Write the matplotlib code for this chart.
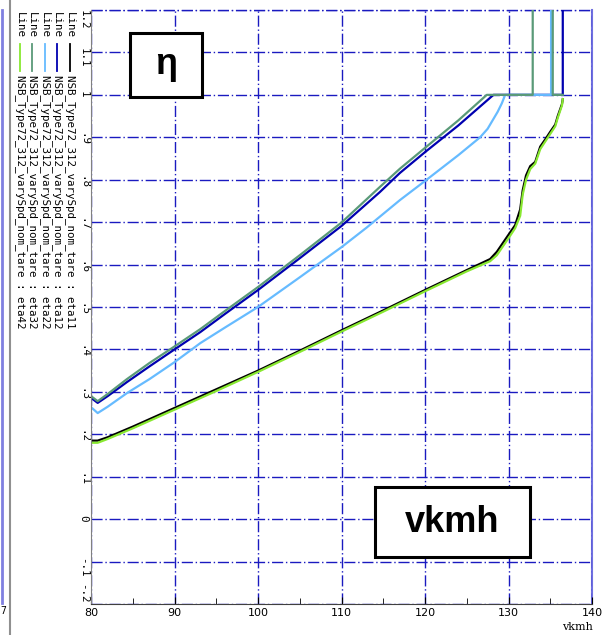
#!/usr/bin/python

import matplotlib
matplotlib.use("Agg")
import matplotlib.pyplot as plt
from matplotlib.patches import Rectangle

# lower pair: eta11 (black) and eta42 (lime)
v_low = [80, 80.8, 82, 85, 90, 95, 100, 105, 110, 115, 120, 125, 127.8, 128.6,
         130.2, 130.8, 131.4, 131.7, 132.1, 132.6, 133.2, 133.8, 134.4, 135.0,
         135.6, 135.9, 136.4, 136.5]
eta11 = [0.185, 0.185, 0.193, 0.218, 0.262, 0.306, 0.35, 0.397, 0.445, 0.492,
         0.54, 0.587, 0.613, 0.63, 0.676, 0.693, 0.73, 0.775, 0.81, 0.832,
         0.842, 0.878, 0.895, 0.913, 0.93, 0.95, 0.978, 0.99]
eta42 = [0.18, 0.18, 0.189, 0.214, 0.258, 0.302, 0.347, 0.394, 0.442, 0.489,
         0.537, 0.584, 0.608, 0.622, 0.668, 0.686, 0.715, 0.765, 0.80, 0.825,
         0.838, 0.872, 0.89, 0.908, 0.926, 0.946, 0.975, 0.99]

# upper curves, each flat at 1 and then leaving the chart
v_12 = [80, 80.8, 82, 84.3, 87, 90, 93.1, 96, 100, 105, 110, 114.6, 117, 120,
        124, 128.2, 136.5, 136.5]
eta12 = [0.286, 0.274, 0.29, 0.323, 0.36, 0.4, 0.441, 0.483, 0.54, 0.615,
         0.691, 0.771, 0.816, 0.865, 0.928, 1.0, 1.0, 1.5]

v_22 = [80, 80.8, 82, 84.3, 87, 90, 93.1, 96, 100, 105, 110, 113, 117, 120,
        124, 126.6, 127.5, 128.1, 128.7, 129.2, 129.6, 135.1, 135.1]
eta22 = [0.264, 0.25, 0.265, 0.297, 0.33, 0.37, 0.415, 0.451, 0.50, 0.57,
         0.641, 0.687, 0.752, 0.797, 0.858, 0.90, 0.92, 0.94, 0.96, 0.98, 1.0,
         1.0, 1.5]

v_32 = [80, 80.8, 82, 84.3, 87, 90, 93.1, 96, 100, 105, 110, 114.6, 117, 120,
        124, 127.4, 132.9, 132.9, 135.3, 135.3, 136.5]
eta32 = [0.29, 0.278, 0.295, 0.33, 0.368, 0.407, 0.448, 0.49, 0.547, 0.622,
         0.699, 0.783, 0.826, 0.875, 0.94, 1.0, 1.0, 1.5, 1.5, 1.0, 1.0]

series_names = ["eta11", "eta12", "eta22", "eta32", "eta42"]
series_colors = ["#000000", "#0000b0", "#66bbff", "#5a9a78", "#88e830"]
prefix = "NSB_Type72_312_varySpd_nom_tare : "

x_ticks = [80, 90, 100, 110, 120, 130, 140]
y_ticks = [-0.2, -0.1, 0, 0.1, 0.2, 0.3, 0.4, 0.5, 0.6, 0.7, 0.8, 0.9, 1.0, 1.1, 1.2]
y_labels = ["-.2", "-.1", "0", ".1", ".2", ".3", ".4", ".5", ".6", ".7", ".8",
            ".9", "1", "1.1", "1.2"]

W, H = 605, 635
grid_col = "#1a1ac0"
grid_dash = (8, 2, 1, 2)
mono = "DejaVu Sans Mono"


def main():
    fig = plt.figure(figsize=(W / 100, H / 100), dpi=100)
    x0, x1, ytop, ybot = 91, 592, 10, 604
    ax = fig.add_axes([x0 / W, (H - ybot) / H, (x1 - x0) / W, (ybot - ytop) / H])

    data = [(v_low, eta11), (v_12, eta12), (v_22, eta22), (v_32, eta32), (v_low, eta42)]
    for (v, e), c in zip(data, series_colors):
        ax.plot(v, e, color=c, lw=1.6, solid_joinstyle="round")

    ax.set_xlim(80, 140)
    ax.set_ylim(-0.2, 1.2)
    ax.set_xticks(x_ticks)
    ax.set_xticks([85, 95, 105, 115, 125, 135], minor=True)
    ax.set_yticks(y_ticks)
    ax.set_yticklabels(y_labels, rotation=-90, family=mono, fontsize=7.8)
    ax.tick_params(axis="y", length=0, pad=2)
    ax.tick_params(axis="x", which="major", direction="in", length=5, labelsize=8, pad=3)
    ax.tick_params(axis="x", which="minor", direction="in", length=4)
    labs = ax.get_yticklabels()
    labs[0].set_va("bottom")
    labs[-1].set_va("top")

    ax.grid(True, color=grid_col, lw=1, dashes=grid_dash)
    ax.set_axisbelow(True)
    for s in ["top", "right"]:
        ax.spines[s].set_visible(False)
    ax.spines["left"].set_color("#808080")
    ax.spines["bottom"].set_color("#404040")
    # grid lines at the plot edges
    ax.axhline(1.2, color=grid_col, lw=1, dashes=grid_dash, clip_on=False, zorder=0.5)
    ax.axvline(140, color="#7070e0", lw=1.5, clip_on=False, zorder=0.5)

    fig.text(593 / W, 1 - 627 / H, "vkmh", family="DejaVu Serif", fontsize=8, ha="right", va="center")

    # boxed labels
    for (bx0, by0, bx1, by1, txt) in [(130, 33, 202, 97, "η"), (375, 487, 530, 557, "vkmh")]:
        fig.patches.append(Rectangle((bx0 / W, 1 - by1 / H), (bx1 - bx0) / W, (by1 - by0) / H,
                                     transform=fig.transFigure, facecolor="white",
                                     edgecolor="black", lw=2.2, zorder=5))
        fig.text((bx0 + bx1) / 2 / W, 1 - (by0 + by1) / 2 / H, txt, family="Liberation Sans",
                 weight="bold", fontsize=26, ha="center", va="center", zorder=6)

    # rotated legend on the left
    cols = [70, 57, 45, 32, 20]
    for cx, name, c in zip(cols, series_names, series_colors):
        fig.text(cx / W, 1 - 12 / H, "Line", rotation=-90, family=mono, fontsize=7.8,
                 ha="center", va="top")
        fig.add_artist(plt.Line2D([cx / W, cx / W], [1 - 44 / H, 1 - 71 / H], color=c, lw=1.3,
                                  transform=fig.transFigure))
        fig.text(cx / W, 1 - 75 / H, prefix + name, rotation=-90, family=mono, fontsize=7.8,
                 ha="center", va="top")

    # frame of the neighbouring panel
    fig.add_artist(plt.Line2D([10 / W, 10 / W], [0, 1], color="#909090", lw=1.5,
                              transform=fig.transFigure))
    fig.add_artist(plt.Line2D([2 / W, 2 / W], [(H - 603) / H, 1 - 10 / H], color="#8080e0", lw=2,
                              transform=fig.transFigure))
    fig.text(0, 1 - 611 / H, "7", family=mono, fontsize=7, ha="left", va="center")

    plt.savefig("out.png", dpi=100)


if __name__ == "__main__":
    main()
